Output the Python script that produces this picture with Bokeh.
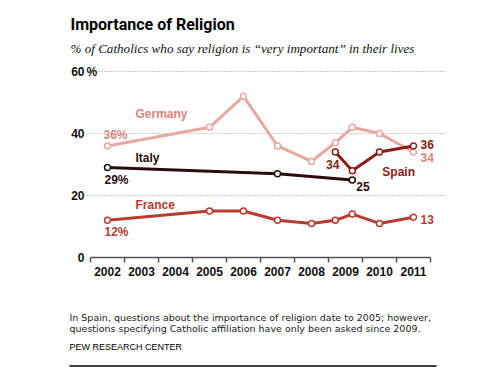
from bokeh.plotting import figure
from bokeh.models import Range1d, FixedTicker, Label
from bokeh.layouts import column
from bokeh.embed import file_html
from bokeh.resources import INLINE

# ---- data ----
year_labels = ["2002", "2003", "2004", "2005", "2006", "2007", "2008", "2009", "2010", "2011"]
year_ticks = [2002, 2003, 2004, 2005, 2006, 2007, 2008, 2009, 2010, 2011]

germany_x = [2002, 2005, 2006, 2007, 2008, 2008.7, 2009.2, 2010, 2011]
germany_y = [36, 42, 52, 36, 31, 37, 42, 40, 34]

italy_x = [2002, 2007, 2009.2]
italy_y = [29, 27, 25]

spain_x = [2008.7, 2009.2, 2010, 2011]
spain_y = [34, 28, 34, 36]

france_x = [2002, 2005, 2006, 2007, 2008, 2008.7, 2009.2, 2010, 2011]
france_y = [12, 15, 15, 12, 11, 12, 14, 11, 13]

y_ticks = [0, 20, 40, 60]
y_tick_labels = {0: "0", 20: "20", 40: "40", 60: "60"}
y_unit = "%"

title_text = "Importance of Religion"
subtitle_text = "% of Catholics who say religion is \u201cvery important\u201d in their lives"
note_lines = ["In Spain, questions about the importance of religion date to 2005; however,",
              "questions specifying Catholic affiliation have only been asked since 2009."]
source_text = "PEW RESEARCH CENTER"

# ---- styles ----
C_GER = "#e8a8a2"
C_GER_T = "#d8877d"
C_ITA = "#2b0c0c"
C_SPA = "#8c1c14"
C_FRA = "#b83a30"
BOLD = "Liberation Sans"
W = 499

PX_X = 34.0   # px per year
PX_Y = 3.1    # px per unit
FRAME_L = 86


def blank(height):
    f = figure(width=W, height=height, output_backend="svg", toolbar_location=None,
               x_range=Range1d(0, W), y_range=Range1d(height, 0),
               min_border=0, min_border_left=0, min_border_right=0,
               min_border_top=0, min_border_bottom=0, frame_align=False)
    f.axis.visible = False
    f.grid.grid_line_color = None
    f.outline_line_color = None
    return f


def lab(fig, x, y, text, color, xo=0, yo=0, align="left", size="12px", font=BOLD, style="bold",
        baseline="middle", bg=None):
    fig.add_layout(Label(x=x, y=y, text=text, text_color=color, x_offset=xo, y_offset=yo,
                         text_align=align, text_baseline=baseline, text_font_size=size,
                         text_font=font, text_font_style=style, background_fill_color=bg))


# ---- header ----
head = blank(60)
lab(head, 70, 24.3, title_text, "#000000", size="16px", font="Roboto",
    baseline="alphabetic")
lab(head, 70, 47.7, subtitle_text, "#111111", size="13.1px", font="Liberation Serif",
    style="italic", baseline="alphabetic")

# ---- main chart ----
MAIN_H = 230
p = figure(width=W, height=MAIN_H, output_backend="svg", toolbar_location=None,
           x_range=Range1d(2001.5 - (90 - FRAME_L) / PX_X, 2011.5 + 16 / PX_X),
           y_range=Range1d(0, 197 / PX_Y),
           min_border_left=FRAME_L, min_border_right=W - 446, min_border_top=0,
           min_border_bottom=MAIN_H - 197, frame_align=False)
p.outline_line_color = None

xa = p.xaxis[0]
xa.ticker = FixedTicker(ticks=year_ticks, minor_ticks=[y - 0.5 for y in year_ticks] + [2011.5])
xa.major_label_overrides = {t: l for t, l in zip(year_ticks, year_labels)}
xa.bounds = (2001.5, 2011.5)
xa.axis_line_color = "#555555"
xa.axis_line_width = 1.5
xa.major_tick_line_color = None
xa.minor_tick_line_color = "#555555"
xa.minor_tick_line_width = 1.5
xa.minor_tick_in = 0
xa.minor_tick_out = 5
xa.major_label_text_font = BOLD
xa.major_label_text_font_style = "bold"
xa.major_label_text_font_size = "12px"
xa.major_label_text_color = "#111111"
xa.major_label_standoff = 3

ya = p.yaxis[0]
ya.ticker = FixedTicker(ticks=y_ticks)
ya.major_label_overrides = y_tick_labels
ya.axis_line_color = None
ya.major_tick_line_color = None
ya.minor_tick_line_color = None
ya.major_tick_in = 0
ya.major_tick_out = 0
ya.minor_tick_in = 0
ya.minor_tick_out = 0
ya.major_label_text_font = BOLD
ya.major_label_text_font_style = "bold"
ya.major_label_text_font_size = "12px"
ya.major_label_text_color = "#111111"
ya.major_label_standoff = 2

p.xgrid.grid_line_color = None
p.ygrid.grid_line_color = "#9a9a9a"
p.ygrid.grid_line_dash = "1 2"
p.ygrid.grid_line_width = 1
p.ygrid.bounds = (2001.5 - 1 / PX_X, 2011.5)

for xs, ys, c in [(germany_x, germany_y, C_GER), (italy_x, italy_y, C_ITA),
                  (france_x, france_y, C_FRA), (spain_x, spain_y, C_SPA)]:
    p.line(xs, ys, line_color=c, line_width=3)
    p.scatter(xs, ys, size=6, marker="circle", fill_color="white", line_color=c, line_width=1.5)

# "%" after the top tick label (white backing so the dots start after it)
lab(p, 2001.5, y_ticks[-1], y_unit, "#111111", -4, 0, size="12px",
    baseline="middle", bg="white")

lab(p, germany_x[0], germany_y[0], "Germany", C_GER_T, 28, 32)
lab(p, germany_x[0], germany_y[0], f"{germany_y[0]}%", C_GER_T, -4, 11)
lab(p, italy_x[0], italy_y[0], "Italy", C_ITA, 28, 10)
lab(p, italy_x[0], italy_y[0], f"{italy_y[0]}%", C_ITA, -3, -12)
lab(p, france_x[0], france_y[0], "France", C_FRA, 28, 15)
lab(p, france_x[0], france_y[0], f"{france_y[0]}%", C_FRA, -3, -12)
lab(p, spain_x[0], spain_y[0], f"{spain_y[0]}", C_SPA, 4, -12, align="right")
lab(p, spain_x[1], spain_y[1], "Spain", C_SPA, 30, -1)
lab(p, italy_x[-1], italy_y[-1], f"{italy_y[-1]}", C_ITA, 4, -6)
lab(p, spain_x[-1], spain_y[-1], f"{spain_y[-1]}", C_SPA, 7, 1)
lab(p, germany_x[-1], germany_y[-1], f"{germany_y[-1]}", C_GER_T, 7, -5)
lab(p, france_x[-1], france_y[-1], f"{france_y[-1]}", C_FRA, 7, -2)

# ---- footer ----
FOOT_TOP = 60 + MAIN_H
foot = blank(367 - FOOT_TOP)
lab(foot, 69, 317.3 - FOOT_TOP, note_lines[0], "#222222", size="9.5px", font="DejaVu Sans",
    style="normal", baseline="alphabetic")
lab(foot, 69, 328.3 - FOOT_TOP, note_lines[1], "#222222", size="9.5px", font="DejaVu Sans",
    style="normal", baseline="alphabetic")
lab(foot, 69, 346.7 - FOOT_TOP, source_text, "#000000", size="9px", font="Liberation Sans",
    style="normal", baseline="alphabetic")
foot.segment(x0=[69], y0=[365.5 - FOOT_TOP], x1=[436], y1=[365.5 - FOOT_TOP],
             line_color="#000000", line_width=1.5)

layout = column(head, p, foot, spacing=0)
open("out.html", "w").write(file_html(layout, INLINE))
